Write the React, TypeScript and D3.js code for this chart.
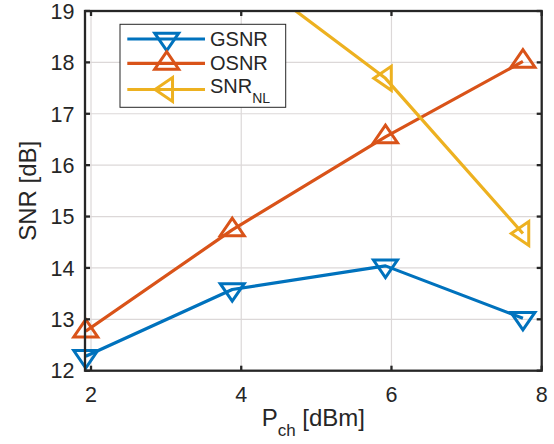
import React, { useRef, useEffect } from 'react'
import * as d3 from 'd3'

// values
const pch = [1.93, 3.88, 5.92, 7.75]
const gsnr = [12.28, 13.58, 14.04, 13.02]
const osnr = [12.77, 14.74, 16.55, 18.02]
const snrNl = [22.3, 19.93, 17.69, 14.67]

const xTicks = [2, 4, 6, 8]
const yTicks = [12, 13, 14, 15, 16, 17, 18, 19]

const seriesNames = ['GSNR', 'OSNR', 'SNR']
const seriesSubs = ['', '', 'NL']
const colors = ['#0072BD', '#D95319', '#EDB120']
const markers = ['down', 'up', 'left']

// triangle path centred on its centroid
function tri(kind: string) {
    const a = 12, h = 17.5
    const pts: [number, number][] = [[-a, -h / 3], [a, -h / 3], [0, 2 * h / 3]]
    const rot = kind == 'down' ? 0 : kind == 'up' ? 180 : 90
    const r = rot * Math.PI / 180
    const p = pts.map(([x, y]) => [x * Math.cos(r) - y * Math.sin(r), x * Math.sin(r) + y * Math.cos(r)])
    return 'M' + p.map(d => d[0].toFixed(2) + ',' + d[1].toFixed(2)).join('L') + 'Z'
}

export default function App() {
    const svgRef = useRef<SVGSVGElement>(null)
    const width = 554, height = 444
    const margin = { top: 11, right: 12.3, bottom: 73.3, left: 85 }

    useEffect(() => {
        const svg = d3.select(svgRef.current)
        svg.selectAll('*').remove()

        const x = d3.scaleLinear().domain([1.92, 8]).range([margin.left, width - margin.right])
        const y = d3.scaleLinear().domain([12, 19]).range([height - margin.bottom, margin.top])
        const x0 = x.range()[0], x1 = x.range()[1], y0 = y.range()[0], y1 = y.range()[1]
        const font = '"Liberation Sans", Arial, Helvetica, sans-serif'

        svg.append('defs').append('clipPath').attr('id', 'plotclip')
            .append('rect').attr('x', x0).attr('y', y1).attr('width', x1 - x0).attr('height', y0 - y1)

        svg.append('rect').attr('x', x0).attr('y', y1).attr('width', x1 - x0).attr('height', y0 - y1)
            .attr('fill', 'white')

        // grid
        const grid = svg.append('g').attr('stroke', '#dcd8d8').attr('stroke-width', 1.2)
        grid.selectAll('line.gx').data(xTicks).enter().append('line')
            .attr('x1', d => x(d)).attr('x2', d => x(d)).attr('y1', y0).attr('y2', y1)
        grid.selectAll('line.gy').data(yTicks).enter().append('line')
            .attr('y1', d => y(d)).attr('y2', d => y(d)).attr('x1', x0).attr('x2', x1)

        // series
        const data = [gsnr, osnr, snrNl]
        const line = d3.line<number>().x((d, i) => x(pch[i])).y(d => y(d))
        data.forEach((vals, k) => {
            svg.append('path')
                .attr('d', line(vals))
                .attr('clip-path', 'url(#plotclip)')
                .attr('fill', 'none')
                .attr('stroke', colors[k])
                .attr('stroke-width', 3.2)
                .attr('stroke-linejoin', 'round')
            svg.selectAll('path.m' + k)
                .data(vals.map((v, i) => ({ x: pch[i], y: v })).filter(d => d.y <= 19))
                .enter().append('path')
                .attr('class', 'm' + k)
                .attr('d', tri(markers[k]))
                .attr('transform', d => `translate(${x(d.x)},${y(d.y)})`)
                .attr('fill', 'none')
                .attr('stroke', colors[k])
                .attr('stroke-width', 3)
        })

        // axes box + ticks
        const ax = svg.append('g').attr('stroke', '#262626').attr('stroke-width', 2.3)
        ax.append('rect').attr('x', x0).attr('y', y1).attr('width', x1 - x0).attr('height', y0 - y1)
            .attr('fill', 'none')
        const tl = 5
        ax.selectAll('line.tx').data(xTicks).enter().append('line')
            .attr('x1', d => x(d)).attr('x2', d => x(d)).attr('y1', y0).attr('y2', y0 - tl)
        ax.selectAll('line.tx2').data(xTicks).enter().append('line')
            .attr('x1', d => x(d)).attr('x2', d => x(d)).attr('y1', y1).attr('y2', y1 + tl)
        ax.selectAll('line.ty').data(yTicks).enter().append('line')
            .attr('y1', d => y(d)).attr('y2', d => y(d)).attr('x1', x0).attr('x2', x0 + tl)
        ax.selectAll('line.ty2').data(yTicks).enter().append('line')
            .attr('y1', d => y(d)).attr('y2', d => y(d)).attr('x1', x1).attr('x2', x1 - tl)

        svg.selectAll('text.xt').data(xTicks).enter().append('text')
            .attr('x', d => x(d)).attr('y', y0 + 31)
            .attr('text-anchor', 'middle')
            .style('font-family', font).style('font-size', '21.5px').attr('fill', '#262626')
            .text(d => d)
        svg.selectAll('text.yt').data(yTicks).enter().append('text')
            .attr('x', x0 - 10.5).attr('y', d => y(d)).attr('dy', '0.36em')
            .attr('text-anchor', 'end')
            .style('font-family', font).style('font-size', '21.5px').attr('fill', '#262626')
            .text(d => d)

        // axis labels
        const xl = svg.append('text')
            .attr('x', (x0 + x1) / 2).attr('y', 425.5)
            .attr('text-anchor', 'middle')
            .style('font-family', font).style('font-size', '24px').attr('fill', '#262626')
        xl.append('tspan').text('P')
        xl.append('tspan').attr('dy', 10).style('font-size', '17px').text('ch')
        xl.append('tspan').attr('dy', -10).text(' [dBm]')

        svg.append('text')
            .attr('transform', `translate(36,${(y0 + y1) / 2}) rotate(-90)`)
            .attr('text-anchor', 'middle')
            .style('font-family', font).style('font-size', '24px').attr('fill', '#262626')
            .text('SNR [dB]')

        // legend
        const lg = svg.append('g')
        lg.append('rect').attr('x', 120).attr('y', 24.3).attr('width', 165.7).attr('height', 83)
            .attr('fill', 'white').attr('stroke', '#262626').attr('stroke-width', 1)
        const rows = [39, 63.3, 89.5]
        seriesNames.forEach((name, k) => {
            lg.append('line').attr('x1', 127.3).attr('x2', 205).attr('y1', rows[k]).attr('y2', rows[k])
                .attr('stroke', colors[k]).attr('stroke-width', 3.2)
            lg.append('path').attr('d', tri(markers[k]))
                .attr('transform', `translate(166.7,${rows[k]})`)
                .attr('fill', 'none').attr('stroke', colors[k]).attr('stroke-width', 3)
            const t = lg.append('text').attr('x', 210)
                .attr('y', seriesSubs[k] ? rows[k] + 3.8 : rows[k] + 7)
                .style('font-family', font).style('font-size', '20px').attr('fill', '#262626')
            t.append('tspan').text(name)
            if (seriesSubs[k]) t.append('tspan').attr('dy', 10).style('font-size', '14px').text(seriesSubs[k])
        })
    }, [])

    return (
        <div style={{ position: 'fixed', left: 0, top: 0 }}>
            <svg ref={svgRef} width={width} height={height} style={{ display: 'block', background: 'white' }}></svg>
        </div>
    )
}
